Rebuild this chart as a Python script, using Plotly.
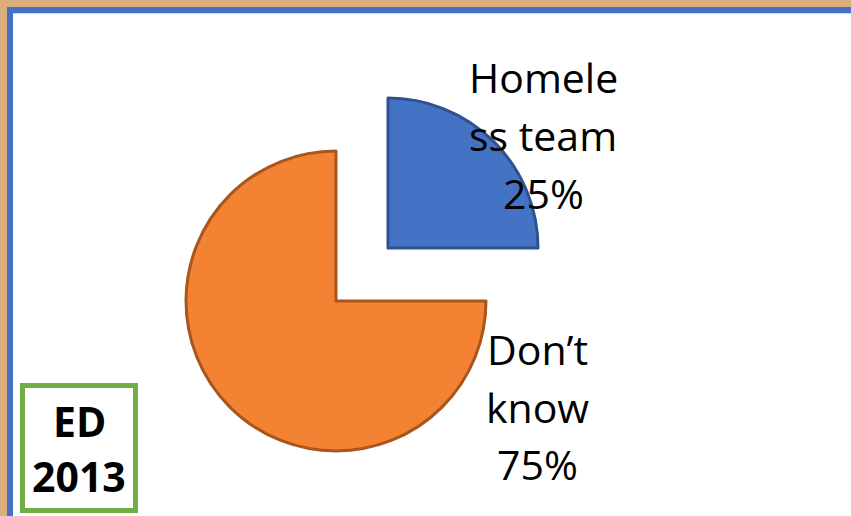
import plotly.graph_objects as go

# Survey answers (percent of respondents)
categories = ["Homeless team", "Don’t know"]
shares = [25, 75]
slice_colors = ["#4472C4", "#F38233"]
edge_colors = ["#2F528F", "#A9561C"]

# Wrapped label lines as they appear beside each slice
label_lines = [["Homele", "ss team"], ["Don’t", "know"]]

badge_lines = ["ED", "2013"]

W, H = 851, 516


def px(x):
    return x / W


def py(y):
    return 1 - y / H


def pie_domain(cx, cy, r):
    return dict(x=[px(cx - r), px(cx + r)], y=[py(cy + r), py(cy - r)])


R = 150
centres = [(388, 248), (336, 301)]  # blue slice drawn pulled out from the pie

fig = go.Figure()
for i, (cx, cy) in enumerate(centres):
    colors = ["rgba(0,0,0,0)"] * len(shares)
    lcolors = ["rgba(0,0,0,0)"] * len(shares)
    widths = [0] * len(shares)
    colors[i] = slice_colors[i]
    lcolors[i] = edge_colors[i]
    widths[i] = 3
    fig.add_trace(go.Pie(
        labels=categories,
        values=shares,
        sort=False,
        direction="clockwise",
        rotation=0,
        textinfo="none",
        hoverinfo="skip",
        showlegend=False,
        marker=dict(colors=colors, line=dict(color=lcolors, width=widths)),
        domain=pie_domain(cx, cy, R),
    ))

annotations = []
label_font = dict(family="Open Sans", size=41, color="#000000")
label_specs = [(543, [77, 135, 193]), (537, [349, 407, 464])]
for (lx, ys), lines, share in zip(label_specs, label_lines, shares):
    texts = lines + [f"{share}%"]
    for t, y in zip(texts, ys):
        annotations.append(dict(
            x=px(lx), y=py(y), xref="paper", yref="paper",
            text=t, showarrow=False, xanchor="center", yanchor="middle",
            font=label_font,
        ))

badge_font = dict(family="Open Sans", size=41, color="#000000", weight="bold")
for t, y in zip(badge_lines, [421, 476]):
    annotations.append(dict(
        x=px(79), y=py(y), xref="paper", yref="paper",
        text=t, showarrow=False, xanchor="center", yanchor="middle",
        font=badge_font,
    ))

shapes = [
    # white panel with blue frame
    dict(type="rect", xref="paper", yref="paper", layer="below",
         x0=px(10), x1=1.05, y0=-0.05, y1=py(10),
         fillcolor="#FFFFFF", line=dict(color="#4472C4", width=6)),
    dict(type="line", xref="paper", yref="paper", layer="below",
         x0=px(13), x1=1.02, y0=py(13.5), y1=py(13.5),
         line=dict(color="#C9DDF0", width=1)),
    # green badge
    dict(type="rect", xref="paper", yref="paper", layer="above",
         x0=px(22.5), x1=px(135.5), y0=py(510.5), y1=py(385.5),
         fillcolor="rgba(0,0,0,0)", line=dict(color="#70AD47", width=5)),
]

fig.update_layout(
    width=W, height=H,
    margin=dict(l=0, r=0, t=0, b=0),
    paper_bgcolor="#D8AE7C",
    plot_bgcolor="#FFFFFF",
    shapes=shapes,
    annotations=annotations,
)

fig.write_html("out.html")
